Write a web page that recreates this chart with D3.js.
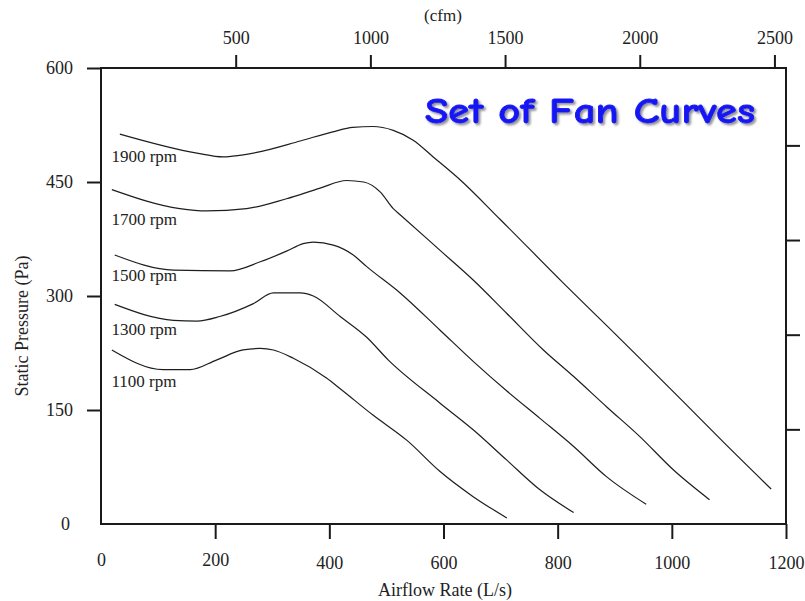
<!DOCTYPE html>
<html>
<head>
<meta charset="utf-8">
<script src="https://cdn.jsdelivr.net/npm/d3@7"></script>
<style>
  html, body { margin: 0; padding: 0; background: #ffffff; }
  svg { display: block; }
</style>
</head>
<body>
<div id="chart"></div>
<script>
// ---- data (airflow in L/s, static pressure in Pa) ----
const speeds = ["1900 rpm", "1700 rpm", "1500 rpm", "1300 rpm", "1100 rpm"];

const flow1900 = [33, 168, 214, 231, 273, 349, 406, 441, 476, 512, 547, 582, 629, 699, 810, 886, 944, 1020, 1090, 1174];
const pres1900 = [513, 488, 483, 484, 489, 504, 516, 522, 523, 518, 505, 483, 453, 401, 317, 261, 218, 161, 108, 46];

const flow1700 = [19, 138, 185, 255, 325, 384, 430, 460, 489, 512, 524, 594, 652, 711, 775, 828, 886, 944, 1003, 1066];
const pres1700 = [440, 415, 412, 415, 428, 442, 452, 450, 437, 415, 407, 360, 321, 277, 229, 194, 154, 115, 71, 32];

const flow1500 = [24, 127, 226, 279, 325, 354, 372, 407, 442, 465, 524, 594, 652, 711, 769, 828, 886, 955];
const pres1500 = [354, 334, 333, 345, 359, 369, 371, 367, 354, 339, 304, 255, 214, 175, 139, 102, 62, 26];

const flow1300 = [24, 127, 168, 208, 267, 302, 349, 372, 419, 465, 503, 594, 652, 711, 769, 828];
const pres1300 = [289, 268, 267, 273, 290, 304, 304, 300, 273, 246, 216, 159, 124, 84, 45, 15];

const flow1100 = [19, 109, 156, 203, 249, 279, 302, 337, 395, 419, 477, 536, 594, 652, 711];
const pres1100 = [229, 203, 203, 216, 229, 231, 229, 218, 192, 178, 143, 110, 69, 36, 8];

// label anchors (L/s, Pa) for the rpm captions
const labelFlow = [20, 20, 20, 20, 20];
const labelPres = [484, 401, 327, 257, 188];

// axis ticks
const flowTicks = [0, 200, 400, 600, 800, 1000, 1200];
const presTicks = [0, 150, 300, 450, 600];
const cfmTicks = [500, 1000, 1500, 2000, 2500];
const inchTicks = [0.5, 1, 1.5, 2];

const title = "Set of Fan Curves";
const xTitle = "Airflow Rate (L/s)";
const yTitle = "Static Pressure (Pa)";
const topTitle = "(cfm)";

// ---- build series ----
const flows = [flow1900, flow1700, flow1500, flow1300, flow1100];
const pres = [pres1900, pres1700, pres1500, pres1300, pres1100];
const series = speeds.map((s, i) => ({
  name: s,
  points: flows[i].map((f, j) => ({ q: f, p: pres[i][j] })),
  lq: labelFlow[i], lp: labelPres[i]
}));

// ---- layout ----
const W = 805, H = 601;
const L = 101, R = 786, T = 68, B = 524;
const serif = "'Liberation Serif', 'Times New Roman', serif";

const x = d3.scaleLinear().domain([0, 1200]).range([L, R]);
const y = d3.scaleLinear().domain([0, 600]).range([B, T]);
const LPS_PER_CFM = 0.4719;
const xCfm = d3.scaleLinear().domain([0, 1200 / LPS_PER_CFM]).range([L, R]);
const PA_PER_INCH = 249.09;
const yInch = d3.scaleLinear().domain([0, 600 / PA_PER_INCH]).range([B, T]);

const svg = d3.select("#chart").append("svg")
  .attr("width", W).attr("height", H)
  .attr("viewBox", `0 0 ${W} ${H}`);

svg.append("rect").attr("width", W).attr("height", H).attr("fill", "#ffffff");

const defs = svg.append("defs");
defs.append("filter").attr("id", "shadow")
  .attr("x", "-5%").attr("y", "-20%").attr("width", "115%").attr("height", "160%")
  .append("feDropShadow")
  .attr("dx", 2).attr("dy", 2).attr("stdDeviation", 1.1)
  .attr("flood-color", "#777777").attr("flood-opacity", 0.8);

function styleAxis(g) {
  g.select(".domain").remove();
  g.selectAll(".tick line").attr("stroke", "#1a1a1a").attr("stroke-width", 2);
  g.selectAll(".tick text")
    .attr("fill", "#222")
    .style("font-family", serif)
    .style("font-size", "18px");
}

// left axis
const gLeft = svg.append("g").attr("transform", `translate(${L},0)`)
  .call(d3.axisLeft(y).tickValues(presTicks).tickSize(14).tickPadding(14).tickFormat(d3.format("d")))
  .call(styleAxis);
gLeft.selectAll(".tick").filter(d => d === 0).select("line").remove();
gLeft.selectAll(".tick text").attr("x", d => d === 0 ? -31 : -28);

// bottom axis
const gBottom = svg.append("g").attr("transform", `translate(0,${B})`)
  .call(d3.axisBottom(x).tickValues(flowTicks).tickSize(15).tickPadding(17).tickFormat(d3.format("d")))
  .call(styleAxis);
gBottom.selectAll(".tick").filter(d => d === 0).select("line").remove();
gBottom.selectAll(".tick text").attr("y", d => d <= 200 ? 29 : 32);

// top axis (cfm)
svg.append("g").attr("transform", `translate(0,${T})`)
  .call(d3.axisTop(xCfm).tickValues(cfmTicks).tickSize(13).tickPadding(11).tickFormat(d3.format("d")))
  .call(styleAxis);

// right axis (in. water, unlabeled)
svg.append("g").attr("transform", `translate(${R},0)`)
  .call(d3.axisRight(yInch).tickValues(inchTicks).tickSize(14).tickFormat(""))
  .call(styleAxis);

// frame
svg.append("rect")
  .attr("x", L).attr("y", T).attr("width", R - L).attr("height", B - T)
  .attr("fill", "none").attr("stroke", "#1a1a1a").attr("stroke-width", 2);

// curves
const line = d3.line().x(d => x(d.q)).y(d => y(d.p)).curve(d3.curveMonotoneX);
svg.append("g").selectAll("path").data(series).join("path")
  .attr("d", d => line(d.points))
  .attr("fill", "none")
  .attr("stroke", "#1e1e1e")
  .attr("stroke-width", 1.2);

// rpm labels
svg.append("g").selectAll("text").data(series).join("text")
  .attr("x", d => x(d.lq) - 1)
  .attr("y", d => y(d.lp))
  .attr("dy", "0.35em")
  .style("font-family", serif)
  .style("font-size", "17px")
  .attr("fill", "#222")
  .text(d => d.name);

// axis titles
svg.append("text")
  .attr("x", 445).attr("y", 590).attr("dy", "0.35em")
  .attr("text-anchor", "middle")
  .style("font-family", serif).style("font-size", "18px").attr("fill", "#222")
  .text(xTitle);

svg.append("text")
  .attr("transform", "translate(22,326) rotate(-90)")
  .attr("dy", "0.35em")
  .attr("text-anchor", "middle")
  .style("font-family", serif).style("font-size", "18px").attr("fill", "#222")
  .text(yTitle);

svg.append("text")
  .attr("x", 443).attr("y", 15).attr("dy", "0.35em")
  .attr("text-anchor", "middle")
  .style("font-family", serif).style("font-size", "17px").attr("fill", "#222")
  .text(topTitle);

// chart title with drop shadow
const titleFont = "'Comic Sans MS', 'Comic Neue', Lato, 'Open Sans', sans-serif";
svg.append("text")
  .attr("x", 425).attr("y", 123)
  .attr("textLength", 330).attr("lengthAdjust", "spacingAndGlyphs")
  .style("font-family", titleFont).style("font-size", "37px").style("font-weight", "bold")
  .attr("fill", "#1414f5")
  .attr("stroke", "#1414f5").attr("stroke-width", 0.8)
  .attr("filter", "url(#shadow)")
  .text(title);
</script>
</body>
</html>
